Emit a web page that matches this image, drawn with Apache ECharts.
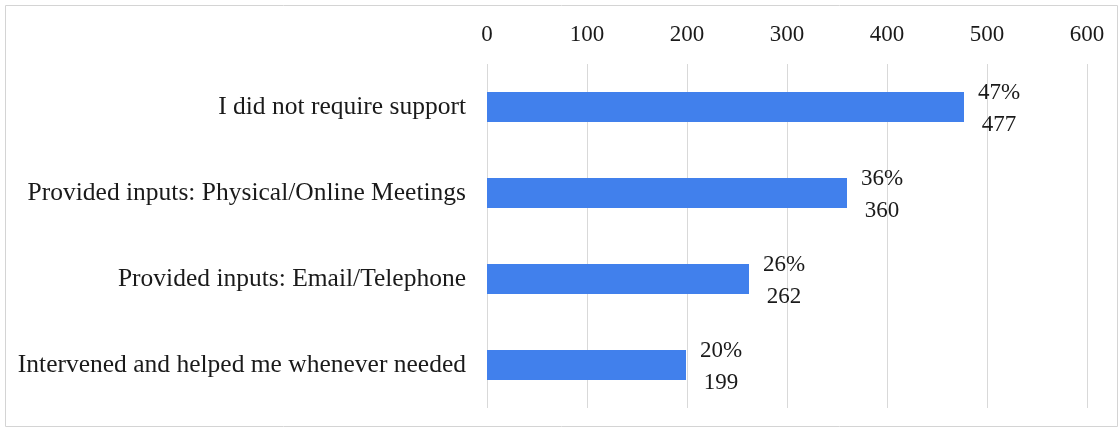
<!DOCTYPE html>
<html>
<head>
<meta charset="utf-8">
<script src="https://cdn.jsdelivr.net/npm/echarts@6/dist/echarts.min.js"></script>
<style>html,body{margin:0;padding:0;background:#fff}#c{width:1120px;height:430px}</style>
</head>
<body>
<div id="c"></div>
<script>
const categories = ["I did not require support", "Provided inputs: Physical/Online Meetings", "Provided inputs: Email/Telephone", "Intervened and helped me whenever needed"];
const counts = [477, 360, 262, 199];
const percents = ["47%", "36%", "26%", "20%"];
const tickMin = 0, tickMax = 600, tickStep = 100;

const chart = echarts.init(document.getElementById('c'));
const font = '"Liberation Serif", "Times New Roman", serif';
chart.setOption({
  animation: false,
  graphic: [{
    type: 'rect', shape: {x: 5.5, y: 5.5, width: 1112, height: 421},
    style: {fill: 'none', stroke: '#d4d4d4', lineWidth: 1}, silent: true
  }],
  grid: {left: 487, right: 33, top: 64, bottom: 22},
  xAxis: {
    type: 'value', position: 'top', min: tickMin, max: tickMax, interval: tickStep,
    axisLine: {show: false}, axisTick: {show: false},
    axisLabel: {fontFamily: font, fontSize: 23, color: '#1a1a1a', margin: 18},
    splitLine: {show: true, lineStyle: {color: '#d9d9d9', width: 1}}
  },
  yAxis: {
    type: 'category', data: categories, inverse: true,
    axisLine: {show: false}, axisTick: {show: false},
    axisLabel: {fontFamily: font, fontSize: 25.5, color: '#1a1a1a', margin: 21}
  },
  series: [{
    type: 'bar', data: counts, barWidth: 30,
    itemStyle: {color: '#4180EC'},
    label: {
      show: true, position: 'right', distance: 12,
      fontFamily: font, fontSize: 23, color: '#1a1a1a', align: 'center', lineHeight: 32,
      formatter: p => percents[p.dataIndex] + '\n' + p.value,
      offset: [23, 2]
    }
  }]
});
</script>
</body>
</html>
